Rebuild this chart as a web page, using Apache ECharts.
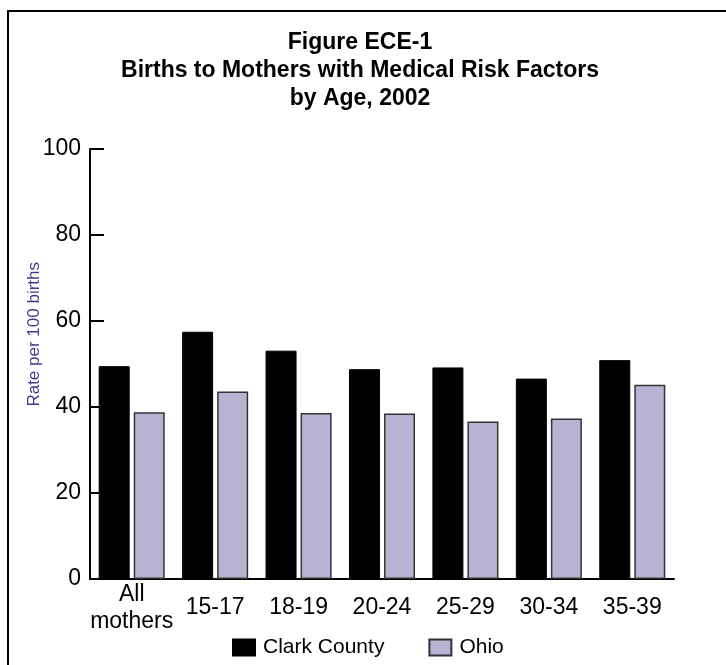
<!DOCTYPE html>
<html>
<head>
<meta charset="utf-8">
<script src="https://cdn.jsdelivr.net/npm/echarts@6/dist/echarts.min.js"></script>
<style>
    body { margin: 0; background: #fff; }
    #wrap { position: relative; width: 726px; height: 665px; overflow: hidden; }
    #main { position: absolute; left: 0; top: 0; width: 726px; height: 665px; }
    /* frame round the figure, only top and left edges are visible */
    #frame { position: absolute; left: 7px; top: 10px; width: 760px; height: 700px;
             border: 2px solid #000; pointer-events: none; }
</style>
</head>
<body>
<div id="wrap">
    <div id="main"></div>
    <div id="frame"></div>
</div>
<script>
// 年龄组
var categories = ['All\nmothers', '15-17', '18-19', '20-24', '25-29', '30-34', '35-39'];
// Clark County 数据
var clarkValues = [49.5, 57.5, 53.1, 48.8, 49.2, 46.6, 50.9];
// Ohio 数据
var ohioValues = [38.8, 43.6, 38.6, 38.5, 36.6, 37.3, 45.2];
var yTicks = [0, 20, 40, 60, 80, 100];

var fontName = '"Liberation Sans", Arial, sans-serif';

var myChart = echarts.init(document.getElementById('main'));

var option = {
    animation: false,
    backgroundColor: '#fff',
    title: {
        text: 'Figure ECE-1\nBirths to Mothers with Medical Risk Factors\nby Age, 2002',
        left: 360,
        top: 29,
        padding: 0,
        textAlign: 'center',
        textStyle: {
            fontFamily: fontName,
            fontSize: 23,
            fontWeight: 'bold',
            lineHeight: 28,
            color: '#000'
        }
    },
    legend: {
        left: 232,
        top: 637,
        padding: 0,
        itemWidth: 22,
        itemHeight: 16,
        itemGap: 44,
        icon: 'rect',
        textStyle: { fontFamily: fontName, fontSize: 21, color: '#000', padding: [0, 0, 0, 3] },
        data: ['Clark County', 'Ohio']
    },
    grid: {
        left: 90,
        top: 149,
        width: 584,
        height: 430
    },
    graphic: [{
        type: 'text',
        left: 26,
        top: 262,
        rotation: Math.PI / 2,
        style: {
            text: 'Rate per 100 births',
            fill: '#3d3a8f',
            font: '17px ' + fontName
        }
    }],
    xAxis: {
        type: 'category',
        data: categories,
        axisLine: { lineStyle: { color: '#000', width: 2 } },
        axisTick: { show: false },
        axisLabel: {
            fontFamily: fontName,
            fontSize: 23,
            lineHeight: 27,
            color: '#000',
            interval: 0,
            verticalAlign: 'middle',
            margin: 29
        }
    },
    yAxis: {
        type: 'value',
        min: yTicks[0],
        max: yTicks[yTicks.length - 1],
        interval: 20,
        splitLine: { show: false },
        axisLine: { show: true, lineStyle: { color: '#000', width: 2 } },
        axisTick: { show: true, inside: true, length: 14, lineStyle: { color: '#000', width: 2 } },
        axisLabel: { fontFamily: fontName, fontSize: 23, color: '#000', margin: 9 }
    },
    series: [{
        name: 'Clark County',
        type: 'bar',
        data: clarkValues,
        barWidth: 31,
        barGap: '13%',
        itemStyle: { color: '#000', borderColor: '#000', borderWidth: 1 }
    }, {
        name: 'Ohio',
        type: 'bar',
        data: ohioValues,
        barWidth: 31,
        itemStyle: { color: '#b9b3d3', borderColor: '#333', borderWidth: 1.5 }
    }]
};

myChart.setOption(option);
</script>
</body>
</html>
